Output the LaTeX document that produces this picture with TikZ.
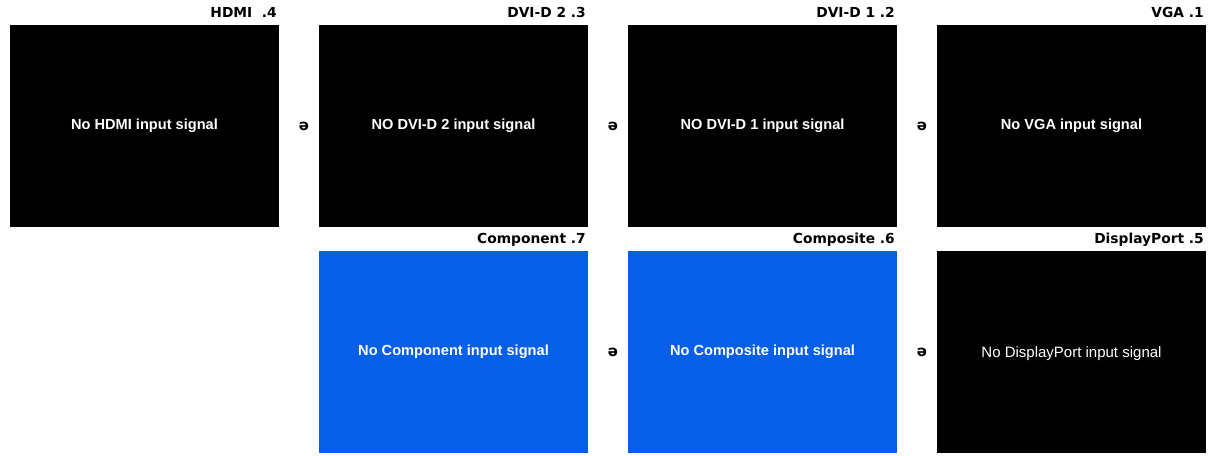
\documentclass[tikz,border=0pt]{standalone}
\usepackage{fontspec}
\setmainfont{Liberation Sans}
\newfontfamily\symfont{DejaVu Sans}
\usetikzlibrary{positioning,calc}

\definecolor{screenblue}{HTML}{065FE6}

\begin{document}
\begin{tikzpicture}[
        x=1pt, y=-1pt,
        node distance=24pt and 40pt,
        screen/.style={fill=black, text=white, font=\bfseries\fontsize{14.6}{16}\selectfont,
            minimum width=269pt, minimum height=202pt, inner sep=0pt, outer sep=0pt},
        bluescreen/.style={screen, fill=screenblue},
        caption/.style={anchor=base east, inner sep=0pt, font=\symfont\bfseries\fontsize{13.8}{15}\selectfont, yshift=7.5pt, xshift=-2pt},
        sym/.style={inner sep=0pt, font=\symfont\bfseries\fontsize{15}{15}\selectfont, xshift=5pt}
    ]
    \useasboundingbox (0,0) rectangle (1209,455);

    % Screens, first row
    \node[screen, anchor=north west] (hdmi) at (10,25) {No HDMI input signal};
    \node[screen, right=of hdmi] (dvitwo) {NO DVI-D 2 input signal};
    \node[screen, right=of dvitwo] (dvione) {NO DVI-D 1 input signal};
    \node[screen, right=of dvione] (vga) {No VGA input signal};

    % Screens, second row
    \node[bluescreen, below=of dvitwo] (component) {No Component input signal};
    \node[bluescreen, below=of dvione] (composite) {No Composite input signal};
    \node[screen, below=of vga, font=\fontsize{15}{16}\selectfont, text depth=-3pt] (dport) {No DisplayPort input signal};

    % Captions
    \node[caption] at (hdmi.north east) {HDMI\ \ .4};
    \node[caption] at (dvitwo.north east) {DVI-D 2 .3};
    \node[caption] at (dvione.north east) {DVI-D 1 .2};
    \node[caption] at (vga.north east) {VGA .1};
    \node[caption] at (component.north east) {Component .7};
    \node[caption] at (composite.north east) {Composite .6};
    \node[caption] at (dport.north east) {DisplayPort .5};

    % Symbols between screens
    \node[sym] (s1) at ($(hdmi.east)!.5!(dvitwo.west)$) {ə};
    \node[sym] (s2) at ($(dvitwo.east)!.5!(dvione.west)$) {ə};
    \node[sym] (s3) at ($(dvione.east)!.5!(vga.west)$) {ə};
    \node[sym] (s4) at ($(component.east)!.5!(composite.west)$) {ə};
    \node[sym] (s5) at ($(composite.east)!.5!(dport.west)$) {ə};

\end{tikzpicture}
\end{document}
